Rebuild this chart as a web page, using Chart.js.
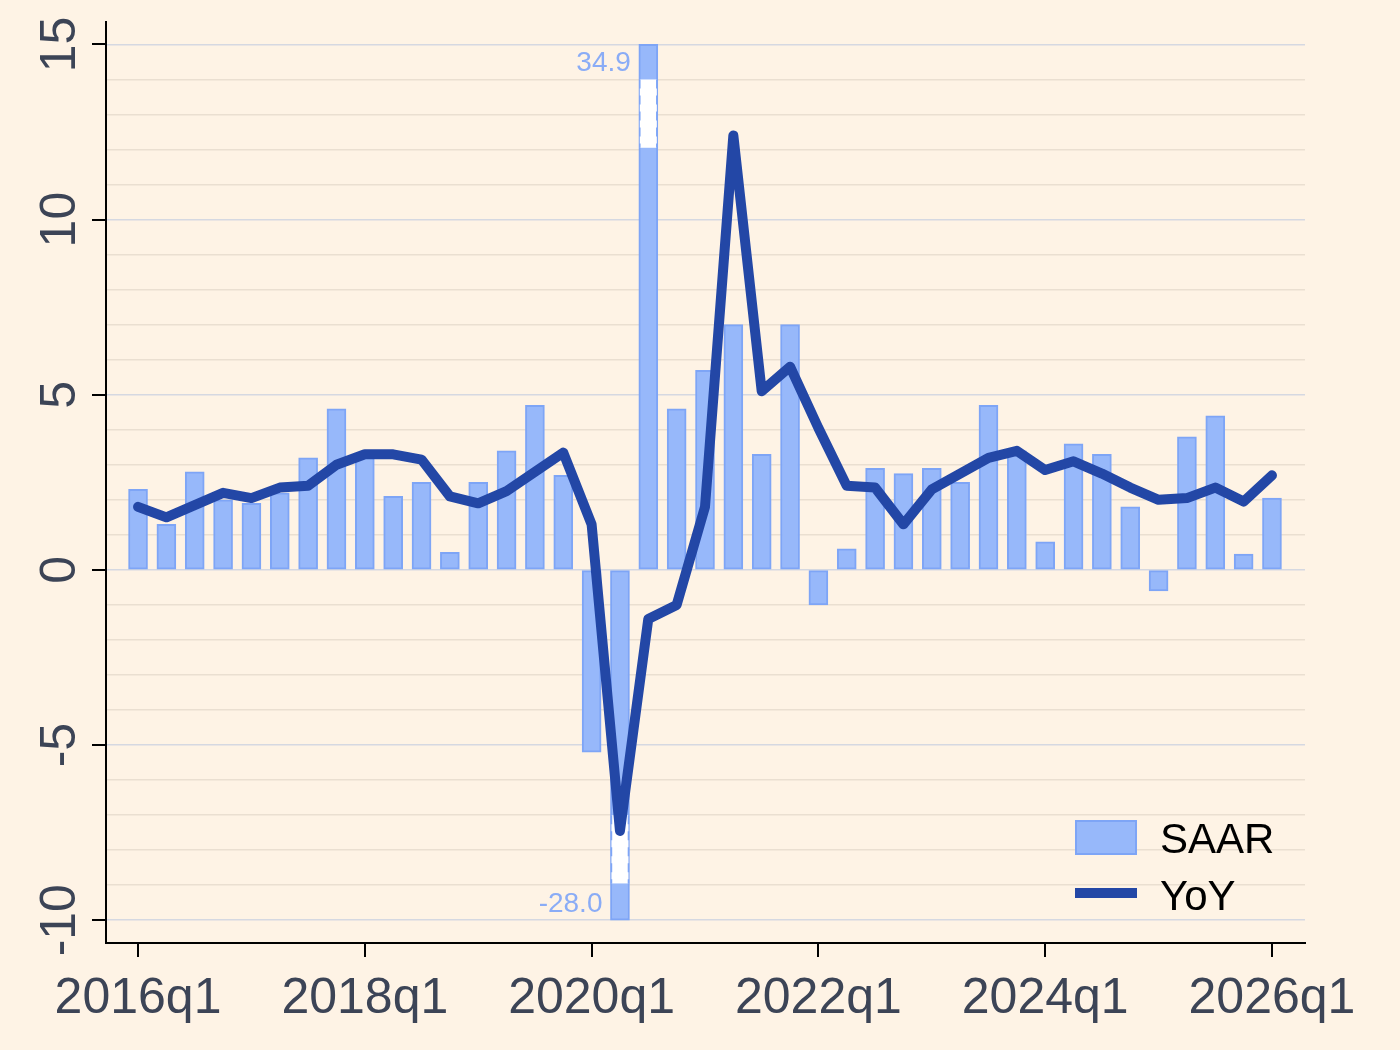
<!DOCTYPE html>
<html>
<head>
<meta charset="utf-8">
<script src="https://cdn.jsdelivr.net/npm/chart.js@4"></script>
<style>
  body { margin: 0; background: #fef3e5; }
  #wrap { width: 1400px; height: 1050px; position: relative; }
</style>
</head>
<body>
<div id="wrap"><canvas id="gdpChart"></canvas></div>
<script>
// quarters 2016q1 .. 2026q1
const quarters = [
    '2016q1','2016q2','2016q3','2016q4','2017q1','2017q2','2017q3','2017q4',
    '2018q1','2018q2','2018q3','2018q4','2019q1','2019q2','2019q3','2019q4',
    '2020q1','2020q2','2020q3','2020q4','2021q1','2021q2','2021q3','2021q4',
    '2022q1','2022q2','2022q3','2022q4','2023q1','2023q2','2023q3','2023q4',
    '2024q1','2024q2','2024q3','2024q4','2025q1','2025q2','2025q3','2025q4',
    '2026q1'
];
const saar = [
    2.3, 1.3, 2.8, 2.0, 1.9, 2.2, 3.2, 4.6,
    3.3, 2.1, 2.5, 0.5, 2.5, 3.4, 4.7, 2.7,
    -5.2, -28.0, 34.9, 4.6, 5.7, 7.0, 3.3, 7.0,
    -1.0, 0.6, 2.9, 2.75, 2.9, 2.5, 4.7, 3.4,
    0.8, 3.6, 3.3, 1.8, -0.6, 3.8, 4.4, 0.45,
    2.05
];
const yoy = [
    1.8, 1.5, 1.85, 2.2, 2.05, 2.35, 2.4, 3.0,
    3.3, 3.3, 3.15, 2.1, 1.9, 2.25, 2.8, 3.35,
    1.3, -7.45, -1.4, -1.0, 1.8, 12.4, 5.1, 5.8,
    4.05, 2.4, 2.35, 1.3, 2.3, 2.75, 3.2, 3.4,
    2.85, 3.1, 2.75, 2.35, 2.0, 2.05, 2.35, 1.95,
    2.7
];
const xTickLabels = ['2016q1', '2018q1', '2020q1', '2022q1', '2024q1', '2026q1'];
const yTickValues = [-10, -5, 0, 5, 10, 15];

const clipLow = -10, clipHigh = 15;
const barFill = '#97b8fa';
const barLine = '#7ea5f6';
const lineColor = '#2347a6';
const labelColor = '#3c4456';
const font = 'Arial, "Liberation Sans", sans-serif';

// bars beyond the axis range are cut at its ends, true value written next to them
const saarShown = saar.map(v => Math.max(clipLow, Math.min(clipHigh, v)));

const stataBits = {
    id: 'stataBits',
    afterDatasetDraw(chart, args) {
        if (args.index !== 0) return;
        const ctx = chart.ctx, xs = chart.scales.x, ys = chart.scales.y;
        saar.forEach((v, i) => {
            if (v >= clipLow && v <= clipHigh) return;
            const cx = xs.getPixelForValue(i);
            const y1 = ys.getPixelForValue(v > 0 ? 14 : -7);
            const y2 = ys.getPixelForValue(v > 0 ? 12.05 : -8.95);
            ctx.save();
            ctx.fillStyle = '#ffffff';
            ctx.fillRect(cx - 8.5, y1, 17, y2 - y1);
            ctx.strokeStyle = barLine;
            ctx.lineWidth = 1.5;
            ctx.setLineDash([9, 7]);
            ctx.beginPath();
            ctx.moveTo(cx - 8.5, y1); ctx.lineTo(cx - 8.5, y2);
            ctx.moveTo(cx + 8.5, y1); ctx.lineTo(cx + 8.5, y2);
            ctx.stroke();
            ctx.restore();
        });
    },
    afterDraw(chart) {
        const ctx = chart.ctx, xs = chart.scales.x, ys = chart.scales.y;
        const area = chart.chartArea;
        ctx.save();

        // tick marks
        ctx.strokeStyle = '#000';
        ctx.lineWidth = 2;
        ctx.beginPath();
        yTickValues.forEach(v => {
            const y = Math.round(ys.getPixelForValue(v));
            ctx.moveTo(area.left - 14, y); ctx.lineTo(area.left, y);
        });
        xTickLabels.forEach(lab => {
            const x = Math.round(xs.getPixelForValue(quarters.indexOf(lab)));
            ctx.moveTo(x, area.bottom); ctx.lineTo(x, area.bottom + 14);
        });
        ctx.stroke();

        // y labels, turned
        ctx.fillStyle = labelColor;
        ctx.font = '50px ' + font;
        ctx.textAlign = 'center';
        ctx.textBaseline = 'alphabetic';
        yTickValues.forEach(v => {
            ctx.save();
            ctx.translate(75, ys.getPixelForValue(v));
            ctx.rotate(-Math.PI / 2);
            ctx.fillText(String(v), 0, 0);
            ctx.restore();
        });

        // x labels
        xTickLabels.forEach(lab => {
            ctx.fillText(lab, xs.getPixelForValue(quarters.indexOf(lab)), 1013);
        });

        // true values of cut bars
        ctx.font = '28px ' + font;
        ctx.fillStyle = '#8aacf6';
        ctx.textAlign = 'right';
        ctx.textBaseline = 'middle';
        saar.forEach((v, i) => {
            if (v >= clipLow && v <= clipHigh) return;
            const x = xs.getPixelForValue(i) - 9.5 - 8;
            const y = ys.getPixelForValue(v > 0 ? 14.45 : -9.55);
            ctx.fillText(v.toFixed(1), x, y);
        });

        // legend
        ctx.fillStyle = barFill;
        ctx.fillRect(1075, 820, 62, 35);
        ctx.strokeStyle = barLine;
        ctx.lineWidth = 2;
        ctx.strokeRect(1076, 821, 60, 33);
        ctx.fillStyle = lineColor;
        ctx.fillRect(1075, 888, 62, 10);
        ctx.fillStyle = '#000';
        ctx.font = '42px ' + font;
        ctx.textAlign = 'left';
        ctx.textBaseline = 'alphabetic';
        ctx.fillText('SAAR', 1160, 853);
        ctx.fillText('YoY', 1160, 910);

        ctx.restore();
    }
};

const ctx = document.getElementById('gdpChart').getContext('2d');
new Chart(ctx, {
    type: 'bar',
    data: {
        datasets: [
            {
                type: 'bar',
                label: 'SAAR',
                data: saarShown.map((v, i) => ({ x: i, y: v })),
                backgroundColor: barFill,
                borderColor: barLine,
                borderWidth: 2,
                borderSkipped: false,
                barThickness: 19,
                order: 2
            },
            {
                type: 'line',
                label: 'YoY',
                data: yoy.map((v, i) => ({ x: i, y: v })),
                borderColor: lineColor,
                borderWidth: 10,
                borderJoinStyle: 'round',
                borderCapStyle: 'round',
                pointRadius: 0,
                tension: 0,
                order: 1
            }
        ]
    },
    options: {
        responsive: true,
        maintainAspectRatio: false,
        animation: false,
        layout: { padding: { left: 106, right: 95, top: 22, bottom: 107 } },
        plugins: {
            legend: { display: false },
            tooltip: { enabled: false }
        },
        scales: {
            x: {
                type: 'linear',
                offset: false,
                min: -1.13,
                max: 41.165,
                ticks: { display: false },
                grid: { display: false, drawTicks: false, offset: false },
                border: { display: true, color: '#000', width: 2 }
            },
            y: {
                min: -10.65,
                max: 15.64,
                afterBuildTicks: axis => {
                    const t = [];
                    for (let v = -10; v <= 15; v++) t.push({ value: v });
                    axis.ticks = t;
                },
                ticks: { display: false },
                grid: {
                    drawTicks: false,
                    lineWidth: 1.5,
                    color: c => (c.tick && c.tick.value % 5 === 0) ? '#d5d8e1' : '#eadfd1'
                },
                border: { display: true, color: '#000', width: 2 }
            }
        }
    },
    plugins: [stataBits]
});
</script>
</body>
</html>
